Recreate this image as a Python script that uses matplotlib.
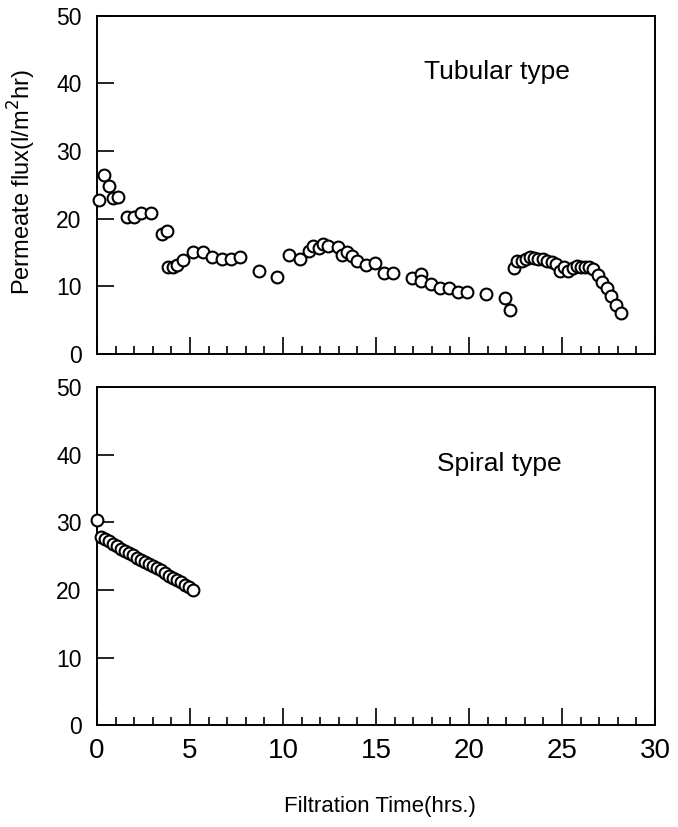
import matplotlib.pyplot as plt
import numpy as np
from matplotlib.ticker import MultipleLocator

plt.rcParams['font.family'] = ['Liberation Sans', 'DejaVu Sans']

# tubular type membrane, permeate flux vs time
tub_time = [0.1, 0.38, 0.63, 0.84, 1.15, 1.6, 2.0, 2.37, 2.89, 3.48, 3.75, 3.82, 4.07,
            4.32, 4.6, 5.18, 5.7, 6.18, 6.7, 7.2, 7.7, 8.7, 9.7, 10.32, 10.9, 11.4,
            11.63, 11.92, 12.17, 12.44, 12.94, 13.15, 13.46, 13.69, 13.96, 14.46,
            14.95, 15.45, 15.93, 16.95, 17.44, 17.44, 17.94, 18.44, 18.92, 19.43,
            19.9, 20.9, 21.95, 22.2, 22.4, 22.6, 22.83, 23.06, 23.28, 23.51, 23.73,
            23.96, 24.2, 24.44, 24.68, 24.89, 25.12, 25.34, 25.57, 25.79, 26.0,
            26.23, 26.45, 26.68, 26.92, 27.17, 27.4, 27.63, 27.9, 28.2]
tub_flux = [22.8, 26.4, 24.8, 23.0, 23.2, 20.3, 20.2, 20.8, 20.8, 17.7, 18.2, 12.8, 12.8,
            13.1, 13.9, 15.1, 15.1, 14.4, 14.1, 14.1, 14.4, 12.3, 11.4, 14.6, 14.1, 15.2,
            15.9, 15.7, 16.2, 15.9, 15.8, 14.7, 15.0, 14.5, 13.7, 13.2,
            13.5, 11.9, 11.9, 11.2, 11.8, 10.8, 10.3, 9.8, 9.8, 9.2,
            9.2, 8.8, 8.2, 6.5, 12.7, 13.7, 13.8, 14.1, 14.3, 14.2, 14.1,
            14.0, 13.8, 13.6, 13.3, 12.3, 12.8, 12.3, 12.7, 13.0, 12.8,
            12.8, 12.8, 12.6, 11.7, 10.7, 9.7, 8.6, 7.2, 6.1]

# spiral type membrane
spi_time = [0.0, 0.2, 0.42, 0.63, 0.85, 1.06, 1.28, 1.49, 1.71, 1.92, 2.14, 2.35, 2.57,
            2.78, 3.0, 3.21, 3.43, 3.64, 3.86, 4.07, 4.29, 4.5, 4.72, 4.93, 5.15]
spi_flux = [30.4, 27.9, 27.5, 27.2, 26.8, 26.5, 26.1, 25.8, 25.4, 25.1, 24.8, 24.5, 24.2,
            23.9, 23.6, 23.2, 22.9, 22.5, 22.1, 21.8, 21.5, 21.2, 20.8, 20.4, 20.0]

fig = plt.figure(figsize=(6.78, 8.27), dpi=100)
ax1 = fig.add_axes([0.143, 0.572, 0.823, 0.409])
ax2 = fig.add_axes([0.143, 0.123, 0.823, 0.409])

for ax, t, f in ((ax1, tub_time, tub_flux), (ax2, spi_time, spi_flux)):
    ax.plot(t, f, 'o', ms=8.5, mfc='white', mec='black', mew=1.5, clip_on=False, zorder=3)
    ax.set_xlim(0, 30)
    ax.set_ylim(0, 50)
    ax.xaxis.set_major_locator(MultipleLocator(5))
    ax.xaxis.set_minor_locator(MultipleLocator(1))
    ax.yaxis.set_major_locator(MultipleLocator(10))
    ax.tick_params(axis='both', which='major', direction='in', length=12, width=1.2,
                   top=False, right=False)
    ax.tick_params(axis='x', which='minor', direction='in', length=6, width=1.2, top=False)
    ax.tick_params(axis='y', labelsize=16.5, pad=11)
    for s in ax.spines.values():
        s.set_linewidth(1.4)

ax1.tick_params(axis='x', labelbottom=False)
ax2.tick_params(axis='x', labelsize=20, pad=9)

ax1.text(17.6, 40.7, 'Tubular type', fontsize=19, va='baseline', ha='left')
ax2.text(18.3, 37.6, 'Spiral type', fontsize=19, va='baseline', ha='left')

fig.text(0.033, 0.78, 'Permeate flux(l/m$^2$hr)', rotation=90, fontsize=17,
         ha='center', va='center')
fig.text(0.56, 0.025, 'Filtration Time(hrs.)', fontsize=16, ha='center', va='center')

plt.savefig('out.png', dpi=100)
